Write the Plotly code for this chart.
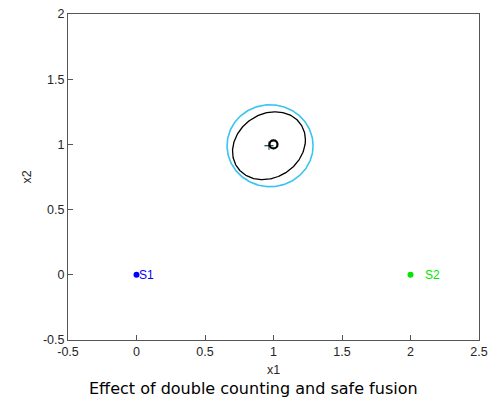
import numpy as np
import plotly.graph_objects as go

# ---- data ----
sensor_names = ["S1", "S2"]
sensor_x = [0.0, 2.0]
sensor_y = [0.0, 0.0]
sensor_colors = ["#0000ff", "#00e600"]
label_x = [0.0, 2.09]

target = [1.0, 1.0]
estimate_double = [0.967, 0.99]
estimate_safe = [0.975, 0.99]
# covariance (scaled, confidence ellipse) of double-counted estimate
cov_double = [[0.0708, 0.012], [0.012, 0.0676]]
# safe fusion (circular) radius
safe_radius = 0.314

x_ticks = [-0.5, 0, 0.5, 1, 1.5, 2, 2.5]
y_ticks = [-0.5, 0, 0.5, 1, 1.5, 2]

fig = go.Figure()

# safe fusion circle
t = np.linspace(0, 2 * np.pi, 240)
fig.add_trace(go.Scatter(
    x=estimate_safe[0] + safe_radius * np.cos(t),
    y=estimate_safe[1] + safe_radius * np.sin(t),
    mode="lines", line=dict(color="#38c4f2", width=1.6),
    showlegend=False, hoverinfo="skip"))

# double counting ellipse
L = np.linalg.cholesky(np.array(cov_double))
pts = L @ np.vstack([np.cos(t), np.sin(t)])
fig.add_trace(go.Scatter(
    x=estimate_double[0] + pts[0], y=estimate_double[1] + pts[1],
    mode="lines", line=dict(color="black", width=1.3),
    showlegend=False, hoverinfo="skip"))

# estimates
fig.add_trace(go.Scatter(
    x=[estimate_double[0]], y=[estimate_double[1]], mode="markers",
    marker=dict(symbol="line-ew", size=7, line=dict(color="#40c0f0", width=1.2)),
    showlegend=False, hoverinfo="skip"))
fig.add_trace(go.Scatter(
    x=[estimate_double[0]], y=[estimate_double[1]], mode="markers",
    marker=dict(symbol="cross-thin", size=6, line=dict(color="#333333", width=1)),
    showlegend=False, hoverinfo="skip"))
# target
fig.add_trace(go.Scatter(
    x=[target[0]], y=[target[1]], mode="markers",
    marker=dict(symbol="circle-open", size=8, color="black", line=dict(color="black", width=2.2)),
    showlegend=False, hoverinfo="skip"))

# sensors
fig.add_trace(go.Scatter(
    x=sensor_x, y=sensor_y, mode="markers",
    marker=dict(size=6, color=sensor_colors),
    showlegend=False, hoverinfo="skip"))

for name, lx, sy, c in zip(sensor_names, label_x, sensor_y, sensor_colors):
    fig.add_annotation(x=lx, y=sy, text=name, showarrow=False, xanchor="left",
                       yanchor="middle", font=dict(family="Liberation Sans", size=12, color=c))

axis_common = dict(
    showgrid=False, zeroline=False, showline=True, mirror=True, automargin=False,
    linecolor="#555555", linewidth=1, ticks="inside", ticklen=5,
    tickcolor="#555555", tickfont=dict(family="Liberation Sans", size=12.5, color="#262626"),
)

fig.update_xaxes(range=[-0.5, 2.5], tickvals=x_ticks,
                 ticktext=[f"{v:g}" for v in x_ticks],
                 title=dict(text="x1", standoff=7,
                            font=dict(family="Liberation Sans", size=12.5, color="#262626")),
                 **axis_common)
fig.update_yaxes(range=[-0.5, 2], tickvals=y_ticks,
                 ticktext=[f"{v:g}" for v in y_ticks],
                 title=dict(text="x2", standoff=8,
                            font=dict(family="Liberation Sans", size=12.5, color="#262626")),
                 **axis_common)

fig.add_annotation(text="Effect of double counting and safe fusion",
                   x=(253 - 68) / 411, xref="paper", xanchor="center",
                   y=-(388 - 340) / 326, yref="paper", yanchor="middle",
                   showarrow=False,
                   font=dict(family="DejaVu Sans", size=16, color="black"))

fig.update_layout(
    width=501, height=402,
    margin=dict(l=68, r=22, t=14, b=62, autoexpand=False),
    plot_bgcolor="white", paper_bgcolor="white",
)

fig.write_html("out.html")
